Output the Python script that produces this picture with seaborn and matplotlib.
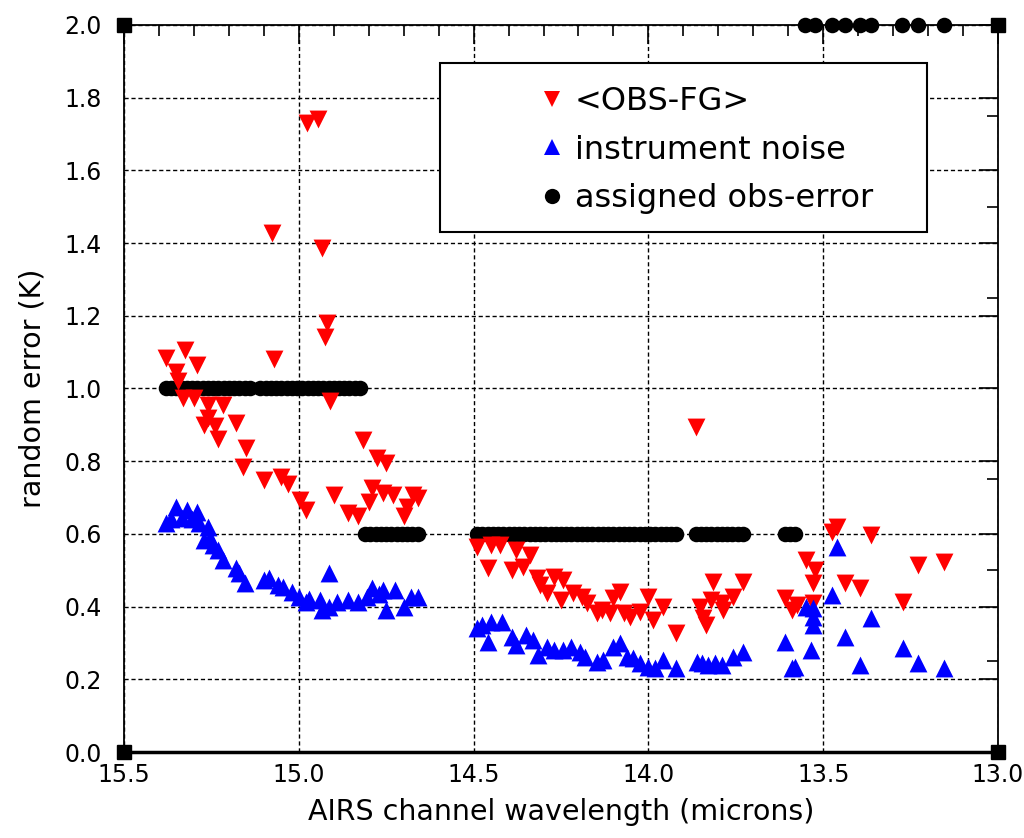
import matplotlib
matplotlib.use("Agg")
import matplotlib.pyplot as plt
import seaborn as sns
import pandas as pd
from matplotlib.ticker import MultipleLocator, FormatStrFormatter
from matplotlib.patches import Rectangle
from matplotlib.lines import Line2D

# ---------------- data ----------------
obsfg_wl = [15.38, 15.35, 15.345, 15.33, 15.325, 15.30, 15.29, 15.27, 15.26, 15.26,
            15.24, 15.23, 15.217, 15.18, 15.16, 15.15, 15.10, 15.077, 15.07, 15.05,
            15.03, 14.997, 14.98, 14.977, 14.945, 14.934, 14.925, 14.92, 14.91, 14.90,
            14.86, 14.83, 14.815, 14.80, 14.79, 14.776, 14.76, 14.75, 14.73, 14.70,
            14.69, 14.673, 14.66,
            14.49, 14.458, 14.45, 14.425, 14.39, 14.38, 14.36, 14.34, 14.32, 14.31,
            14.29, 14.27, 14.25, 14.244, 14.215, 14.19, 14.176, 14.147, 14.133, 14.11,
            14.10, 14.08, 14.07, 14.053, 14.024, 14.0, 13.987, 13.958, 13.92, 13.864,
            13.853, 13.844, 13.836, 13.82, 13.815, 13.79, 13.787, 13.758, 13.73,
            13.61, 13.59, 13.575, 13.55, 13.53, 13.53, 13.523, 13.475, 13.46, 13.438,
            13.395, 13.363, 13.272, 13.229, 13.154]
obsfg_val = [1.084, 1.045, 1.02, 0.974, 1.106, 0.974, 1.065, 0.90, 0.955, 0.92,
             0.897, 0.861, 0.955, 0.905, 0.784, 0.836, 0.748, 1.428, 1.08, 0.757,
             0.738, 0.693, 0.666, 1.73, 1.741, 1.387, 1.142, 1.18, 0.965, 0.707,
             0.657, 0.65, 0.858, 0.688, 0.726, 0.809, 0.712, 0.795, 0.707, 0.65,
             0.674, 0.707, 0.698,
             0.564, 0.506, 0.569, 0.569, 0.50, 0.556, 0.509, 0.542, 0.479, 0.459,
             0.437, 0.481, 0.418, 0.473, 0.437, 0.426, 0.41, 0.382, 0.39, 0.382,
             0.424, 0.44, 0.382, 0.371, 0.385, 0.426, 0.363, 0.399, 0.327, 0.894,
             0.399, 0.369, 0.349, 0.418, 0.468, 0.41, 0.39, 0.426, 0.468,
             0.424, 0.39, 0.404, 0.528, 0.465, 0.41, 0.50, 0.605, 0.619, 0.465,
             0.451, 0.597, 0.413, 0.514, 0.523]

noise_wl = [15.38, 15.365, 15.35, 15.335, 15.32, 15.305, 15.29, 15.285, 15.26, 15.27,
            15.255, 15.245, 15.23, 15.217, 15.18, 15.17, 15.155, 15.10, 15.085, 15.06,
            15.045, 15.02, 15.0, 14.98, 14.97, 14.94, 14.935, 14.915, 14.915, 14.89,
            14.86, 14.83, 14.805, 14.79, 14.77, 14.76, 14.75, 14.725, 14.70, 14.68,
            14.66,
            14.49, 14.475, 14.458, 14.45, 14.42, 14.39, 14.38, 14.35, 14.33, 14.315,
            14.29, 14.27, 14.244, 14.22, 14.196, 14.18, 14.147, 14.13, 14.10, 14.08,
            14.06, 14.044, 14.024, 14.0, 13.98, 13.958, 13.92, 13.861, 13.847, 13.83,
            13.81, 13.79, 13.758, 13.73,
            13.61, 13.59, 13.58, 13.55, 13.53, 13.53, 13.53, 13.535, 13.475, 13.46,
            13.438, 13.395, 13.363, 13.272, 13.229, 13.154]
noise_val = [0.63, 0.64, 0.674, 0.645, 0.666, 0.64, 0.66, 0.63, 0.62, 0.583,
             0.59, 0.569, 0.555, 0.528, 0.506, 0.492, 0.465, 0.473, 0.48, 0.459,
             0.455, 0.44, 0.426, 0.413, 0.42, 0.418, 0.39, 0.492, 0.399, 0.413,
             0.418, 0.413, 0.426, 0.451, 0.435, 0.446, 0.39, 0.446, 0.399, 0.426,
             0.426,
             0.341, 0.35, 0.303, 0.358, 0.358, 0.316, 0.294, 0.322, 0.308, 0.267,
             0.289, 0.281, 0.281, 0.289, 0.275, 0.261, 0.248, 0.253, 0.289, 0.30,
             0.261, 0.259, 0.245, 0.234, 0.231, 0.253, 0.231, 0.248, 0.245, 0.239,
             0.245, 0.239, 0.261, 0.275,
             0.303, 0.231, 0.234, 0.399, 0.396, 0.371, 0.349, 0.281, 0.432, 0.564,
             0.316, 0.239, 0.369, 0.286, 0.245, 0.231]

# assigned observation error: groups of channels sharing one value
assigned_wl_a = [15.38, 15.365, 15.35, 15.335, 15.32, 15.305, 15.29, 15.275, 15.26, 15.245,
                 15.23, 15.215, 15.20, 15.185, 15.17, 15.155, 15.14, 15.11, 15.095, 15.08,
                 15.065, 15.05, 15.035, 15.02, 15.005, 14.99, 14.975, 14.96, 14.945, 14.93,
                 14.915, 14.90, 14.885, 14.87, 14.855, 14.84, 14.825]
assigned_wl_b = [14.81, 14.795, 14.78, 14.765, 14.75, 14.735, 14.72, 14.705, 14.69, 14.675, 14.66]
assigned_wl_c = [14.49, 14.475, 14.46, 14.445, 14.43, 14.415, 14.40, 14.385, 14.37, 14.355,
                 14.34, 14.325, 14.31, 14.295, 14.28, 14.265, 14.25, 14.235, 14.22, 14.205,
                 14.19, 14.175, 14.16, 14.145, 14.13, 14.115, 14.10, 14.085, 14.07, 14.055,
                 14.04, 14.025, 14.01, 13.995, 13.98, 13.965, 13.95, 13.935, 13.92,
                 13.865, 13.85, 13.835, 13.82, 13.805, 13.79, 13.775, 13.76, 13.745, 13.73]
assigned_wl_d = [13.61, 13.595, 13.58]
assigned_wl_e = [13.552, 13.523, 13.475, 13.438, 13.395, 13.363, 13.275, 13.229, 13.154]
assigned_groups = [assigned_wl_a, assigned_wl_b, assigned_wl_c, assigned_wl_d, assigned_wl_e]
assigned_levels = [1.0, 0.6, 0.6, 0.6, 2.0]

labels = ["<OBS-FG>", "instrument noise", "assigned obs-error"]
x_ticks = [15.5, 15.0, 14.5, 14.0, 13.5, 13.0]

# ---------------- plot ----------------
sns.set_style("white")
plt.rcParams["font.family"] = ["DejaVu Sans"]
plt.rcParams["text.color"] = "black"
plt.rcParams["axes.labelcolor"] = "black"
plt.rcParams["xtick.color"] = "black"
plt.rcParams["ytick.color"] = "black"

df_fg = pd.DataFrame({"wl": obsfg_wl, "err": obsfg_val})
df_noise = pd.DataFrame({"wl": noise_wl, "err": noise_val})
ass_wl, ass_val = [], []
for g, lev in zip(assigned_groups, assigned_levels):
    ass_wl.extend(g)
    ass_val.extend([lev] * len(g))
df_ass = pd.DataFrame({"wl": ass_wl, "err": ass_val})

fig = plt.figure(figsize=(10.24, 8.38), dpi=100)
ax = fig.add_axes([124 / 1024, 1 - 752 / 838, 874 / 1024, 727 / 838])

sns.scatterplot(data=df_ass, x="wl", y="err", ax=ax, color="black", marker="o",
                s=125, linewidth=0, zorder=3)
sns.scatterplot(data=df_fg, x="wl", y="err", ax=ax, color="#ff0000", marker="v",
                s=165, linewidth=0, zorder=4)
sns.scatterplot(data=df_noise, x="wl", y="err", ax=ax, color="#0000ff", marker="^",
                s=165, linewidth=0, zorder=4)
for coll in ax.collections:
    coll.set_clip_on(False)

ax.set_xlim(15.5, 13.0)
ax.set_ylim(0.0, 2.0)
ax.set_xticks(x_ticks)
ax.xaxis.set_minor_locator(MultipleLocator(0.1))
ax.yaxis.set_major_locator(MultipleLocator(0.2))
ax.yaxis.set_minor_locator(MultipleLocator(0.25))
ax.xaxis.set_major_formatter(FormatStrFormatter("%.1f"))
ax.yaxis.set_major_formatter(FormatStrFormatter("%.1f"))

ax.tick_params(which="both", direction="in", top=True, right=True, colors="black",
               labelsize=17, width=1.2)
ax.tick_params(which="major", length=14)
ax.tick_params(which="minor", length=8)
ax.tick_params(axis="x", which="major", pad=8)
ax.tick_params(axis="y", which="major", pad=16)

ax.grid(True, which="major", color="black", linestyle=(0, (3, 2)), linewidth=1.0)
ax.set_axisbelow(True)

for side, sp in ax.spines.items():
    sp.set_color("black")
    sp.set_linewidth(1.3)
ax.spines["bottom"].set_linewidth(2.5)

ax.set_xlabel("AIRS channel wavelength (microns)", fontsize=20.5, labelpad=8)
ax.set_ylabel("random error (K)", fontsize=20.5, labelpad=13)

# corner squares
ax.plot([0, 1, 0, 1], [0, 0, 1, 1], linestyle="none", marker="s", markersize=10.5,
        color="black", transform=ax.transAxes, clip_on=False, zorder=6)

# legend box
box = Rectangle(((440 - 124) / 874, (752 - 232) / 727), (927 - 440) / 874, (232 - 63) / 727,
                transform=ax.transAxes, facecolor="white", edgecolor="black",
                linewidth=1.5, zorder=5)
ax.add_patch(box)
handles = [
    Line2D([], [], linestyle="none", marker="v", color="#ff0000", markersize=12, markeredgewidth=0),
    Line2D([], [], linestyle="none", marker="^", color="#0000ff", markersize=12, markeredgewidth=0),
    Line2D([], [], linestyle="none", marker="o", color="black", markersize=11, markeredgewidth=0),
]
leg = ax.legend(handles, labels, loc="upper left",
                bbox_to_anchor=((535 - 124) / 874, (752 - 86) / 727),
                frameon=False, fontsize=23, handlelength=1.04, handletextpad=0.2,
                borderpad=0, borderaxespad=0, labelspacing=0.55)
leg.set_zorder(7)

fig.savefig("out.png", dpi=100)
